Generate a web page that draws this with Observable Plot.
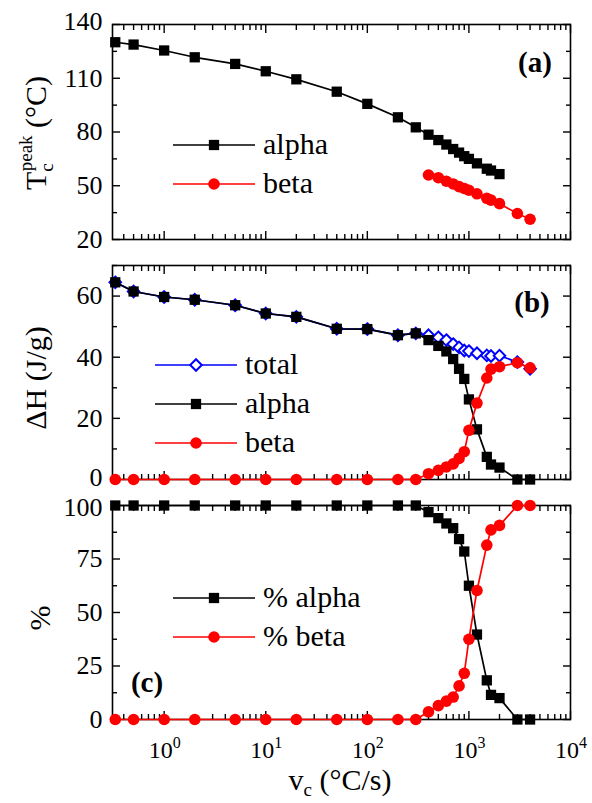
<!DOCTYPE html>
<html><head><meta charset="utf-8">
<script src="https://cdn.jsdelivr.net/npm/d3@7"></script>
<script src="https://cdn.jsdelivr.net/npm/@observablehq/plot@0.6"></script>
<style>
body{margin:0;background:#fff}
#wrap{position:relative;width:592px;height:803px;font-family:'Liberation Serif','DejaVu Serif',serif;background:#fff}
#wrap svg{position:absolute;left:0;overflow:visible}
#wrap svg text{font-family:'Liberation Serif','DejaVu Serif',serif}
</style></head><body><div id="wrap"></div>
<script>
// ---- data ----
const rate = [0.33,0.5,1,2,5,10,20,50,100,200,300,400,500,600,700,800,900,1000,1200,1500,1650,2000,3000,4000];
// (a) peak crystallization temperature
const tcAlphaRate = [0.33,0.5,1,2,5,10,20,50,100,200,300,400,500,600,700,800,900,1000,1200,1500,1650,2000];
const tcAlpha = [130.1,128.8,125.5,121.7,118.0,113.9,109.4,102.5,95.7,88.2,82.6,78.5,75.5,73.0,70.5,68.5,66.5,65.0,62.5,59.5,58.5,56.5];
const tcBetaRate = [400,500,600,700,800,900,1000,1200,1500,1650,2000,3000,4000];
const tcBeta = [56.0,54.5,52.5,51.0,49.5,48.5,47.5,45.5,43.0,42.0,40.0,34.5,31.3];
// (b) enthalpy
const dhTotal = [64.5,61.5,59.7,58.8,57.0,54.3,53.2,49.3,49.2,47.2,47.8,47.2,46.5,45.6,44.3,43.2,42.2,42.0,41.3,40.6,40.4,40.5,38.4,36.2];
const dhAlpha = [64.5,61.5,59.7,58.8,57.0,54.3,53.2,49.3,49.2,47.2,47.8,45.6,43.7,41.9,39.4,36.2,32.9,26.2,16.4,7.4,4.9,3.9,0,0];
const dhBeta  = [0,0,0,0,0,0,0,0,0,0,0,1.9,3.0,4.1,5.1,6.9,9.1,16.1,25.0,33.2,36.1,36.9,38.2,36.5];
// (c) fractions
const pctAlpha = [100,100,100,100,100,100,100,100,100,100,100,96.9,94.1,91.6,89.4,84.3,78.5,62.5,39.7,18.3,11.5,10.0,0,0];
const pctBeta  = [0,0,0,0,0,0,0,0,0,0,0,3.6,6.5,8.6,10.5,15.7,21.6,37.5,60.3,81.5,88.6,90.7,100,100];
// axes
const xDomain = [0.31, 10000];
const xMajor = [1, 10, 100, 1000, 10000];
const xMajorExp = ["0","1","2","3","4"];
const xMinor = [0.1,1,10,100,1000].flatMap(d => [2,3,4,5,6,7,8,9].map(m => +(m*d).toPrecision(3))).filter(v => v > 0.31 && v < 10000);
const aMajor = [20,50,80,110,140], aMinor = [35,65,95,125];
const bMajor = [0,20,40,60], bMinor = [10,30,50,70];
const cMajor = [0,25,50,75,100], cMinor = [12.5,37.5,62.5,87.5];

const FONT = "'Liberation Serif','DejaVu Serif',serif";
const RED = "#ff0000", BLUE = "#0000ff", BLACK = "#000000";
const wrap = document.getElementById("wrap");

function rows(xs, ys){ return xs.map((x,i)=>({x, y: ys[i]})); }

// tick marks inward on all four sides + y tick labels (shift: {value: dy})
function frameMarks(yMajor, yMinor, shift){
  const plain = yMajor.filter(v => !(v in shift));
  const labels = [Plot.axisY(plain, {anchor:"left", tickSize:0, tickPadding:10, stroke:"none", tickFormat: d => String(d), label:null, fontSize:26})];
  for (const k of Object.keys(shift)) {
    labels.push(Plot.axisY([+k], {anchor:"left", tickSize:0, tickPadding:10, stroke:"none", dy: shift[k], tickFormat: d => String(d), label:null, fontSize:26}));
  }
  return [
    Plot.frame({stroke: BLACK, strokeWidth: 1.6}),
    ...labels,
    Plot.axisY(yMajor, {anchor:"left", tickSize:-8, strokeWidth:1.4, fill:"none", label:null}),
    Plot.axisY(yMinor, {anchor:"left", tickSize:-5, strokeWidth:1.4, fill:"none", label:null}),
    Plot.axisY(yMajor, {anchor:"right", tickSize:-8, strokeWidth:1.4, fill:"none", label:null}),
    Plot.axisY(yMinor, {anchor:"right", tickSize:-5, strokeWidth:1.4, fill:"none", label:null}),
    Plot.axisX(xMajor, {anchor:"top", tickSize:-8, strokeWidth:1.4, fill:"none", label:null}),
    Plot.axisX(xMinor, {anchor:"top", tickSize:-5, strokeWidth:1.4, fill:"none", label:null}),
    Plot.axisX(xMajor, {anchor:"bottom", tickSize:-8, strokeWidth:1.4, fill:"none", label:null}),
    Plot.axisX(xMinor, {anchor:"bottom", tickSize:-5, strokeWidth:1.4, fill:"none", label:null})
  ];
}

function panel({top, height, mt, mb, yDomain, yMajor, yMinor, shift = {}, marks}){
  const svg = Plot.plot({
    width: 592, height, marginLeft: 112, marginRight: 22, marginTop: mt, marginBottom: mb,
    style: {background: "transparent", fontFamily: FONT, color: BLACK, overflow: "visible"},
    x: {type: "log", domain: xDomain},
    y: {domain: yDomain},
    marks: [...frameMarks(yMajor, yMinor, shift), ...marks]
  });
  svg.style.top = top + "px";
  wrap.appendChild(svg);
  return svg;
}

const lineSq = (xs, ys, color) => [
  Plot.line(rows(xs, ys), {x:"x", y:"y", stroke: color, strokeWidth: 1.7}),
  Plot.dot(rows(xs, ys), {x:"x", y:"y", symbol:"square", r:5.8, fill: color, stroke:"none"})
];
const lineCirc = (xs, ys, color) => [
  Plot.line(rows(xs, ys), {x:"x", y:"y", stroke: color, strokeWidth: 1.7}),
  Plot.dot(rows(xs, ys), {x:"x", y:"y", symbol:"circle", r:5.8, fill: color, stroke:"none"})
];
const lineDiam = (xs, ys, color) => [
  Plot.line(rows(xs, ys), {x:"x", y:"y", stroke: color, strokeWidth: 1.7}),
  Plot.dot(rows(xs, ys), {x:"x", y:"y", symbol:"diamond2", r:5.2, fill:"white", stroke: color, strokeWidth: 2})
];

// panel (a)
const svgA = panel({top:0, height:255, mt:24, mb:16, yDomain:[20,140], yMajor:aMajor, yMinor:aMinor, shift:{140:-3},
  marks:[...lineSq(tcAlphaRate, tcAlpha, BLACK), ...lineCirc(tcBetaRate, tcBeta, RED)]});
// panel (b)
const svgB = panel({top:250, height:244, mt:15, mb:15, yDomain:[0,70], yMajor:bMajor, yMinor:bMinor, shift:{0:-2},
  marks:[...lineDiam(rate, dhTotal, BLUE), ...lineSq(rate, dhAlpha, BLACK), ...lineCirc(rate, dhBeta, RED)]});
// panel (c)
const svgC = panel({top:490, height:313, mt:15, mb:84, yDomain:[0,100], yMajor:cMajor, yMinor:cMinor, shift:{100:2},
  marks:[...lineSq(rate, pctAlpha, BLACK), ...lineCirc(rate, pctBeta, RED)]});
// x tick labels 10^n, placed with the plot's x scale
{
  const xs = svgC.scale("x");
  const g = d3.select(svgC).append("g").attr("font-family", FONT).attr("text-anchor", "middle");
  xMajor.forEach((v, i) => {
    const t = g.append("text").attr("x", xs.apply(v) + 1).attr("y", 758 - 490).attr("font-size", 24);
    t.append("tspan").text("10");
    t.append("tspan").attr("font-size", 16).attr("dy", -10).text(xMajorExp[i]);
  });
}

// ---- decorations (legends, titles, panel tags) ----
const symSquare = d3.symbol(d3.symbolSquare, 5.8*5.8*Math.PI)();
const symCircle = d3.symbol(d3.symbolCircle, 5.8*5.8*Math.PI)();
const symDiam = d3.symbol(d3.symbolDiamond2, 5.2*5.2*Math.PI)();

function legend(svg, top, items, x1, x2, tx, size){
  const g = d3.select(svg).append("g").attr("font-family", FONT).attr("font-size", size).attr("text-anchor", "start");
  items.forEach(it => {
    const y = it.y - top, xm = (x1 + x2)/2;
    g.append("line").attr("x1", x1).attr("x2", x2).attr("y1", y).attr("y2", y).attr("stroke", it.color).attr("stroke-width", 1.7);
    const p = g.append("path").attr("d", it.sym).attr("transform", `translate(${xm},${y})`);
    if (it.hollow) p.attr("fill","white").attr("stroke", it.color).attr("stroke-width", 2);
    else p.attr("fill", it.color);
    g.append("text").attr("x", tx).attr("y", y).attr("dy", "0.3em").text(it.label);
  });
}
legend(svgA, 0, [
  {y:145, color:BLACK, sym:symSquare, label:"alpha"},
  {y:184, color:RED, sym:symCircle, label:"beta"}], 173, 255, 263, 30);
legend(svgB, 250, [
  {y:365, color:BLUE, sym:symDiam, hollow:true, label:"total"},
  {y:404, color:BLACK, sym:symSquare, label:"alpha"},
  {y:443, color:RED, sym:symCircle, label:"beta"}], 155, 237, 245, 30);
legend(svgC, 490, [
  {y:598, color:BLACK, sym:symSquare, label:"% alpha"},
  {y:637, color:RED, sym:symCircle, label:"% beta"}], 173, 255, 263, 30);

function tag(svg, top, x, y, label){
  d3.select(svg).append("text").attr("x", x).attr("y", y - top).attr("font-family", FONT)
    .attr("font-size", 29).attr("font-weight", "bold").attr("text-anchor", "middle").text(label);
}
tag(svgA, 0, 535, 72, "(a)");
tag(svgB, 250, 532, 312, "(b)");
tag(svgC, 490, 147, 692, "(c)");

// y titles
function ytitle(svg, top, x, y, build){
  const t = d3.select(svg).append("text").attr("transform", `translate(${x},${y - top}) rotate(-90)`)
    .attr("font-family", FONT).attr("font-size", 30).attr("text-anchor", "middle");
  build(t);
}
ytitle(svgA, 0, 46, 133, t => {
  t.append("tspan").text("T");
  t.append("tspan").attr("font-size", 19).attr("dy", 7).text("c");
  t.append("tspan").attr("font-size", 19).attr("dx", -8).attr("dy", -21).text("peak");
  t.append("tspan").attr("dy", 14).text(" (\u00b0C)");
});
ytitle(svgB, 250, 46, 378, t => t.text("\u0394H (J/g)"));
ytitle(svgC, 490, 50, 618, t => t.text("%"));
// x title
{
  const t = d3.select(svgC).append("text").attr("x", 340).attr("y", 790 - 490)
    .attr("font-family", FONT).attr("font-size", 30).attr("text-anchor", "middle");
  t.append("tspan").text("v");
  t.append("tspan").attr("font-size", 19).attr("dy", 6).text("c");
  t.append("tspan").attr("dy", -6).text(" (\u00b0C/s)");
}
</script></body></html>
